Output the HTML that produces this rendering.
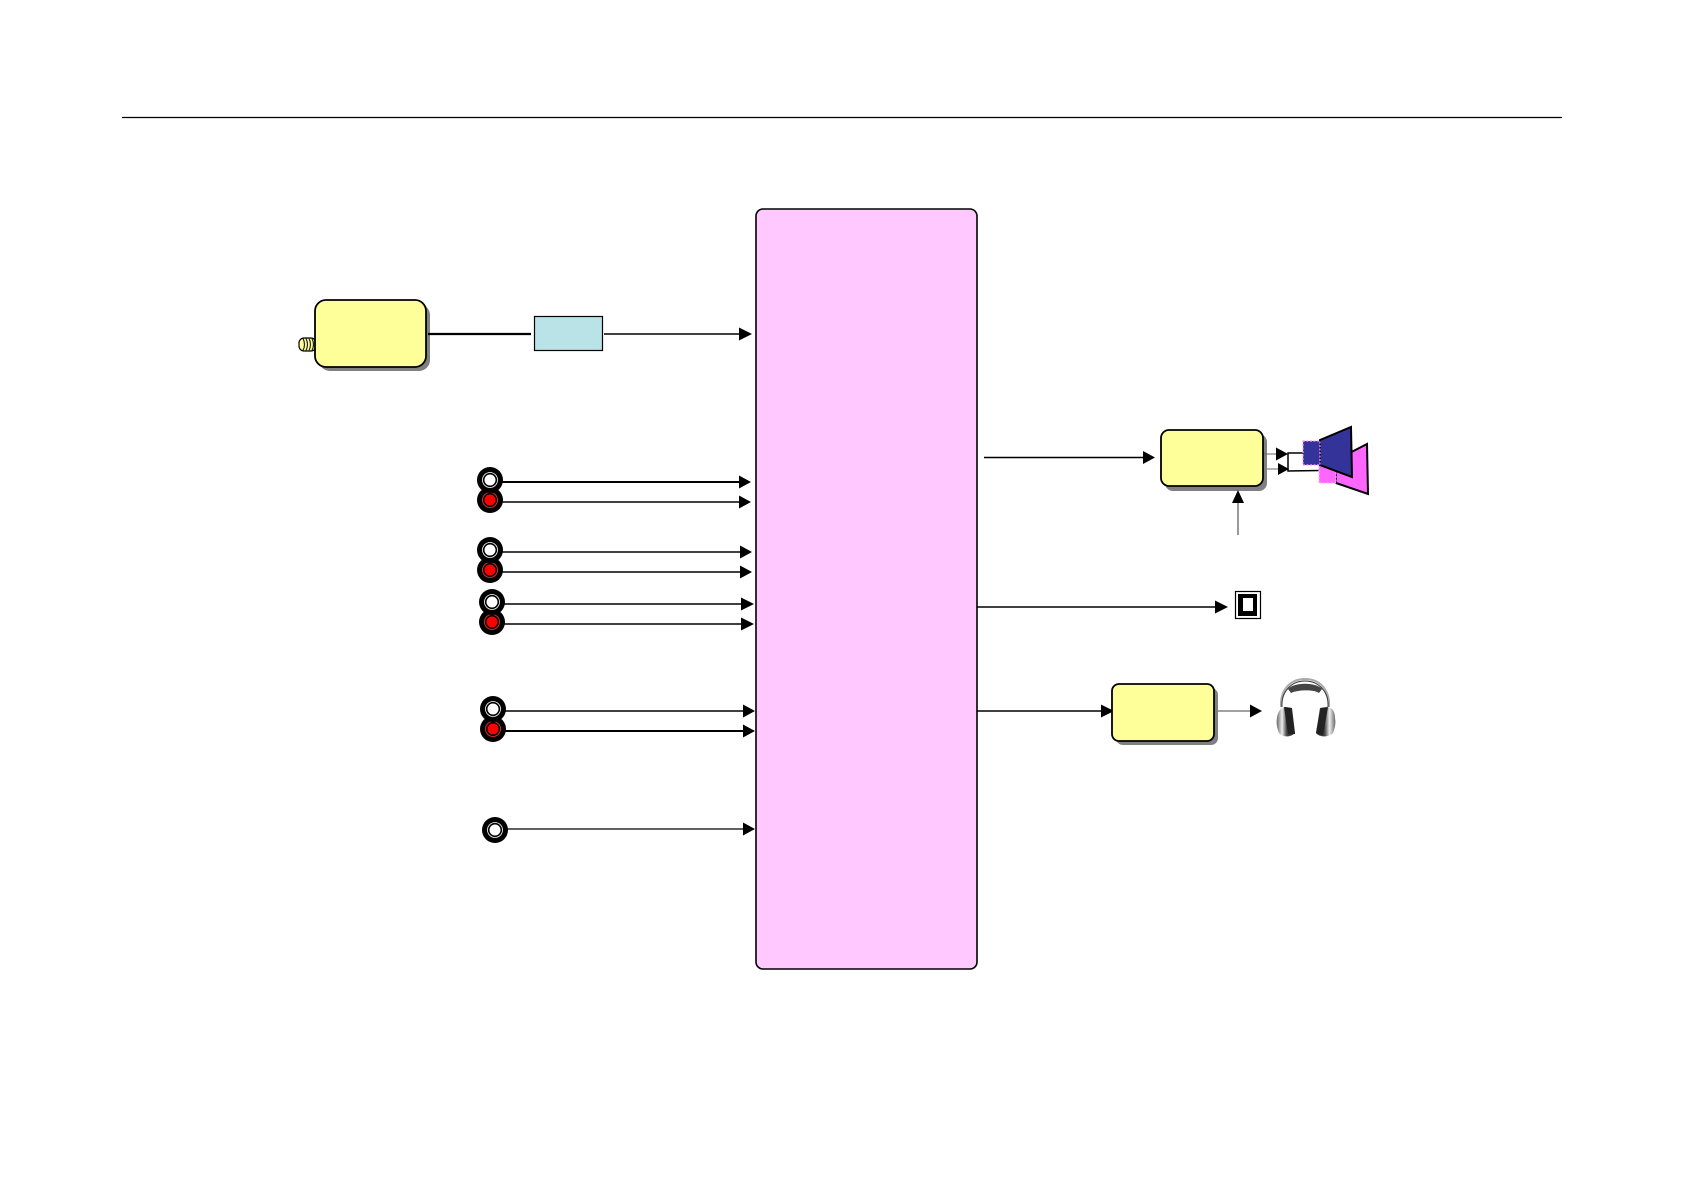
<!DOCTYPE html>
<html>
<head>
<meta charset="utf-8">
<style>
html,body{margin:0;padding:0;background:#fff;width:1684px;height:1190px;overflow:hidden}
svg{display:block}
</style>
</head>
<body>
<svg width="1684" height="1190" viewBox="0 0 1684 1190" xmlns="http://www.w3.org/2000/svg">
<defs>
<linearGradient id="cup" x1="0" y1="0" x2="1" y2="0">
<stop offset="0" stop-color="#666"/><stop offset=".3" stop-color="#eee"/><stop offset=".55" stop-color="#444"/><stop offset="1" stop-color="#222"/>
</linearGradient>
<linearGradient id="cup2" x1="1" y1="0" x2="0" y2="0">
<stop offset="0" stop-color="#666"/><stop offset=".3" stop-color="#eee"/><stop offset=".55" stop-color="#444"/><stop offset="1" stop-color="#222"/>
</linearGradient>
</defs>

<rect width="1684" height="1190" fill="#fff"/>
<line x1="122" y1="117.5" x2="1562" y2="117.5" stroke="#000" stroke-width="1.200"/>

<!-- central block -->
<rect x="756" y="209" width="221" height="760" rx="7" ry="7" fill="#ffc8ff" stroke="#000" stroke-width="1.600"/>

<!-- tuner -->
<rect x="299" y="338" width="17" height="13" rx="5" fill="#ffff99" stroke="#000" stroke-width="1.200"/>
<path d="M303 338.500q3 6 0 12M306 338.500q3 6 0 12M309 338.500q3 6 0 12M312 338.500q3 6 0 12M315 338.500q3 6 0 12" fill="none" stroke="#222" stroke-width="1.200"/>
<rect x="319" y="304" width="111" height="67" rx="11" fill="#808080"/>
<rect x="315" y="300" width="111" height="67" rx="11" fill="#ffff99" stroke="#000" stroke-width="1.800"/>

<line x1="428" y1="334" x2="531" y2="334" stroke="#000" stroke-width="2.200"/>
<rect x="534.500" y="316.500" width="68" height="34" fill="#b9e3e6" stroke="#000" stroke-width="1.200"/>
<line x1="604" y1="334" x2="741" y2="334" stroke="#000" stroke-width="1.500"/>
<polygon points="739,327.500 752,334 739,340.500" fill="#000"/>

<!-- RCA connectors -->
<g>
<circle cx="490" cy="500" r="13" fill="#000"/><circle cx="490" cy="500" r="7.500" fill="none" stroke="#f33" stroke-width="0.800"/><circle cx="490" cy="500" r="5.500" fill="#f00"/>
<circle cx="490" cy="480" r="13" fill="#000"/><circle cx="490" cy="480" r="7.500" fill="none" stroke="#fff" stroke-width="0.800"/><circle cx="490" cy="480" r="5.500" fill="#fff"/>
<circle cx="490" cy="570" r="13" fill="#000"/><circle cx="490" cy="570" r="7.500" fill="none" stroke="#f33" stroke-width="0.800"/><circle cx="490" cy="570" r="5.500" fill="#f00"/>
<circle cx="490" cy="550" r="13" fill="#000"/><circle cx="490" cy="550" r="7.500" fill="none" stroke="#fff" stroke-width="0.800"/><circle cx="490" cy="550" r="5.500" fill="#fff"/>
<circle cx="492" cy="622" r="13" fill="#000"/><circle cx="492" cy="622" r="7.500" fill="none" stroke="#f33" stroke-width="0.800"/><circle cx="492" cy="622" r="5.500" fill="#f00"/>
<circle cx="492" cy="602" r="13" fill="#000"/><circle cx="492" cy="602" r="7.500" fill="none" stroke="#fff" stroke-width="0.800"/><circle cx="492" cy="602" r="5.500" fill="#fff"/>
<circle cx="493" cy="729" r="13" fill="#000"/><circle cx="493" cy="729" r="7.500" fill="none" stroke="#f33" stroke-width="0.800"/><circle cx="493" cy="729" r="5.500" fill="#f00"/>
<circle cx="493" cy="709" r="13" fill="#000"/><circle cx="493" cy="709" r="7.500" fill="none" stroke="#fff" stroke-width="0.800"/><circle cx="493" cy="709" r="5.500" fill="#fff"/>
<circle cx="495" cy="830" r="13" fill="#000"/><circle cx="495" cy="830" r="7.500" fill="none" stroke="#fff" stroke-width="0.800"/><circle cx="495" cy="830" r="5.500" fill="#fff"/>
</g>

<!-- input arrows -->
<g stroke="#000" stroke-width="1.500">
<line x1="502" y1="482" x2="741" y2="482" stroke-width="2"/>
<line x1="502" y1="502" x2="741" y2="502"/>
<line x1="502" y1="552" x2="742" y2="552"/>
<line x1="502" y1="572" x2="742" y2="572"/>
<line x1="504" y1="604" x2="743" y2="604"/>
<line x1="504" y1="624" x2="743" y2="624"/>
<line x1="505" y1="711" x2="745" y2="711"/>
<line x1="505" y1="731" x2="745" y2="731" stroke-width="2"/>
<line x1="507" y1="829" x2="745" y2="829" stroke-width="1.300"/>
</g>
<g fill="#000">
<polygon points="739,475.500 751,482 739,488.500"/>
<polygon points="739,495.500 751,502 739,508.500"/>
<polygon points="740,545.500 752,552 740,558.500"/>
<polygon points="740,565.500 752,572 740,578.500"/>
<polygon points="741,597.500 754,604 741,610.500"/>
<polygon points="741,617.500 754,624 741,630.500"/>
<polygon points="743,704.500 755,711 743,717.500"/>
<polygon points="743,724.500 755,731 743,737.500"/>
<polygon points="743,822.500 755,829 743,835.500"/>
</g>

<!-- amp -->
<line x1="984" y1="457.500" x2="1144" y2="457.500" stroke="#000" stroke-width="1.500"/>
<polygon points="1143,451 1155,457.500 1143,464" fill="#000"/>
<rect x="1165" y="434" width="102" height="57" rx="8" fill="#808080"/>
<rect x="1161" y="430" width="102" height="56" rx="8" fill="#ffff99" stroke="#000" stroke-width="1.800"/>
<line x1="1238" y1="535" x2="1238" y2="500" stroke="#333" stroke-width="1"/>
<polygon points="1232,503 1238,490 1244,503" fill="#000"/>
<line x1="1264" y1="454" x2="1277" y2="454" stroke="#666" stroke-width="1"/>
<line x1="1267" y1="469" x2="1279" y2="469" stroke="#666" stroke-width="1"/>
<polygon points="1276,447.500 1288,454 1276,460.500" fill="#000"/>
<polygon points="1278,463 1289,469 1278,475" fill="#000"/>
<path d="M1304 453H1288V471L1320 470.500" fill="none" stroke="#000" stroke-width="1.500"/>

<!-- speakers -->
<polygon points="1336,460 1367,444 1368,494 1336,483" fill="#ff66ff" stroke="#000" stroke-width="2"/>
<rect x="1319" y="465" width="17" height="18" fill="#ff66ff"/>
<rect x="1319" y="465" width="17" height="18" fill="none" stroke="#ffb0ff" stroke-width="1.200" stroke-dasharray="2 1.500"/>
<polygon points="1320,440 1351,427 1352,477 1320,465" fill="#333399" stroke="#000" stroke-width="2"/>
<rect x="1303" y="441" width="17" height="24" fill="#333399"/>
<rect x="1303" y="441" width="17" height="24" fill="none" stroke="#ff99ff" stroke-width="1.200" stroke-dasharray="2 1.500"/>

<!-- optical out -->
<line x1="977" y1="607" x2="1216" y2="607" stroke="#000" stroke-width="1.500"/>
<polygon points="1215,600.500 1228,607 1215,613.500" fill="#000"/>
<rect x="1235.500" y="591.500" width="25" height="27" fill="#fff" stroke="#000" stroke-width="1.200"/>
<rect x="1238" y="594" width="19" height="22" fill="#000"/>
<rect x="1243" y="598" width="10" height="13" fill="#fff"/>

<!-- headphone amp -->
<line x1="977" y1="711" x2="1102" y2="711" stroke="#000" stroke-width="1.500"/>
<polygon points="1101,704.500 1114,711 1101,717.500" fill="#000"/>
<rect x="1116" y="688" width="102" height="57" rx="7" fill="#808080"/>
<rect x="1112" y="684" width="102" height="57" rx="7" fill="#ffff99" stroke="#000" stroke-width="1.800"/>
<line x1="1218" y1="711" x2="1251" y2="711" stroke="#444" stroke-width="1"/>
<polygon points="1250,704.500 1262,711 1250,717.500" fill="#000"/>

<!-- headphones -->
<path d="M1281 707C1280 690 1290 679 1305 679C1320 679 1330 690 1329 707" fill="none" stroke="#aaa" stroke-width="2"/>
<path d="M1282 707C1281 692 1291 681 1305 681C1319 681 1329 692 1328 707" fill="none" stroke="#333" stroke-width="1"/>
<path d="M1288 689C1294 682 1316 682 1322 689L1319 693C1314 689 1296 690 1291 693Z" fill="#444"/>
<path d="M1277 718C1278 710 1282 707 1286 707L1292 708L1295 733C1290 738 1282 737 1279 733C1277 728 1276 723 1277 718Z" fill="url(#cup)"/>
<path d="M1335 718C1335 710 1331 707 1327 707L1320 708L1316 733C1320 738 1330 737 1333 733C1335 728 1336 723 1335 718Z" fill="url(#cup2)"/>
<path d="M1284 707L1291 708L1295 734L1288 734Z" fill="#222"/>
<path d="M1321 708L1328 707L1323 735L1316 733Z" fill="#222"/>
</svg>
</body>
</html>
